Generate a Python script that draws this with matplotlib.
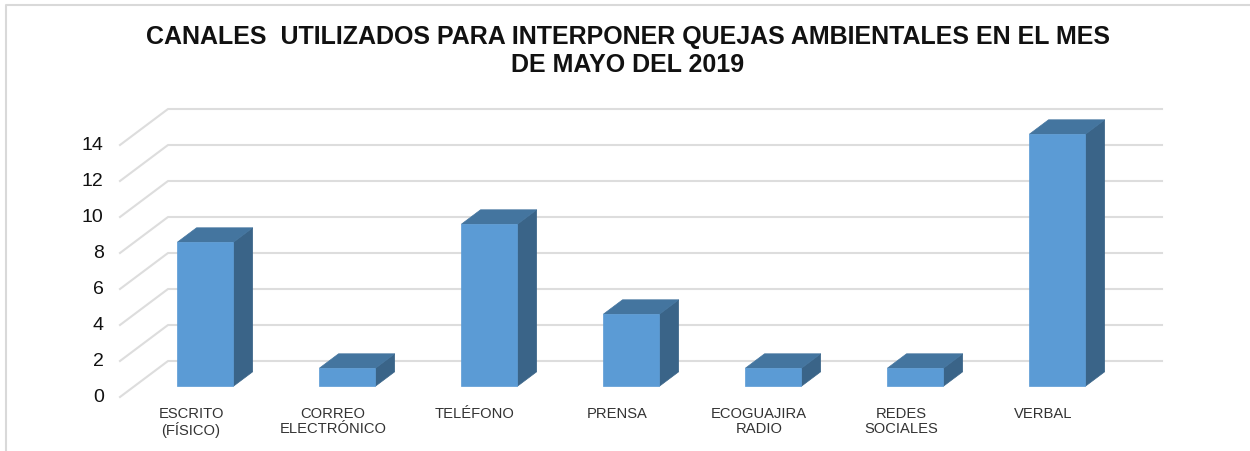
import matplotlib
matplotlib.use('Agg')
import matplotlib.pyplot as plt
from matplotlib.patches import Polygon
from matplotlib.lines import Line2D

plt.rcParams['font.family'] = ['Liberation Sans', 'DejaVu Sans']

# Data
categories = ['ESCRITO\n(FÍSICO)', 'CORREO\nELECTRÓNICO', 'TELÉFONO', 'PRENSA',
              'ECOGUAJIRA\nRADIO', 'REDES\nSOCIALES', 'VERBAL']
values = [8, 1, 9, 4, 1, 1, 14]
y_ticks = [0, 2, 4, 6, 8, 10, 12, 14]
title = 'CANALES  UTILIZADOS PARA INTERPONER QUEJAS AMBIENTALES EN EL MES\nDE MAYO DEL 2019'

W, H = 1250, 451
FRONT = '#5B9BD5'
TOP = '#44759F'
SIDE = '#3A6488'
GRID = '#DDDDDD'

fig = plt.figure(figsize=(W / 100, H / 100), dpi=100)
# axes box is the front plane of the fake 3d chart
ax = fig.add_axes([120 / W, 1 - 397 / H, 994 / W, 252 / H])
ax.set_xlim(0, len(categories))
ax.set_ylim(0, 14)
ax.axis('off')

# depth of the 3d box, in data units
depth_x = 48 / 142
depth_y = 2.0
bar_width = 0.395
z0, z1 = 0.3, 0.7


def proj(x, y, z):
    return x + depth_x * z, y + depth_y * z


# walls
for t in y_ticks:
    ax.add_line(Line2D([0, depth_x, len(categories) + depth_x], [t, t + depth_y, t + depth_y],
                       color=GRID, lw=1.5, clip_on=False, zorder=1))
    ax.text(-0.115, t - 0.02, str(t), ha='right', va='center', fontsize=14, color='#111111')

# bars
for i, v in enumerate(values):
    l = i + 0.5 - bar_width / 2
    r = i + 0.5 + bar_width / 2
    front = [proj(l, 0, z0), proj(r, 0, z0), proj(r, v, z0), proj(l, v, z0)]
    side = [proj(r, 0, z0), proj(r, 0, z1), proj(r, v, z1), proj(r, v, z0)]
    top = [proj(l, v, z0), proj(r, v, z0), proj(r, v, z1), proj(l, v, z1)]
    ax.add_patch(Polygon(side, closed=True, fc=SIDE, ec=SIDE, lw=0.5, clip_on=False, zorder=3))
    ax.add_patch(Polygon(top, closed=True, fc=TOP, ec=TOP, lw=0.5, clip_on=False, zorder=3))
    ax.add_patch(Polygon(front, closed=True, fc=FRONT, ec=FRONT, lw=0.5, clip_on=False, zorder=4))
    ax.annotate(categories[i], xy=(i + 0.5, 0), xytext=(0, -10), textcoords='offset pixels',
                ha='center', va='top', fontsize=10.6, color='#333333', linespacing=1.05)

fig.text(628 / W, 1 - 51 / H, title, ha='center', va='center', fontsize=18,
         fontweight='bold', color='#111111', linespacing=1.2)

# picture frame left and top
fig.add_artist(Line2D([6 / W, 6 / W, 1], [0, 1 - 5 / H, 1 - 5 / H], color='#D9D9D9', lw=1.5))

fig.savefig('out.png', dpi=100)
